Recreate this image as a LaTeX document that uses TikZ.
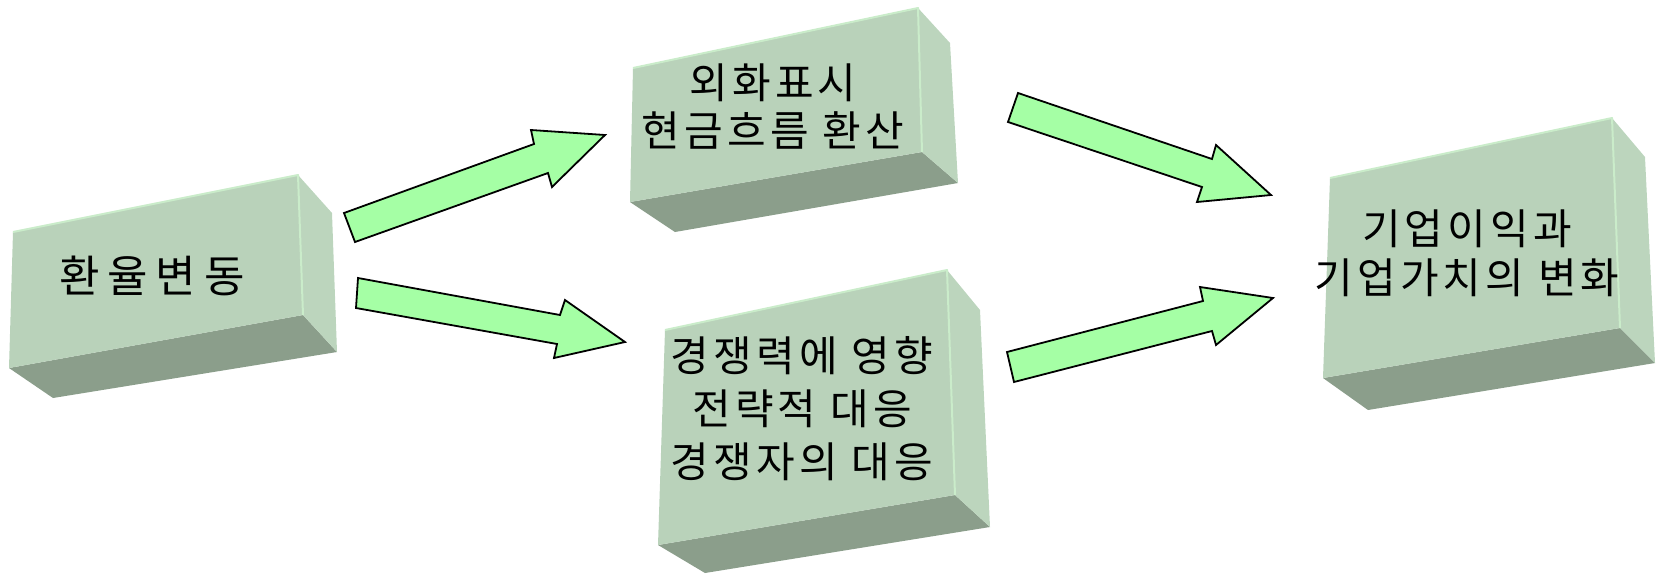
\documentclass[tikz,border=0pt]{standalone}
\usepackage{fontspec}
\newfontfamily\kr{Noto Sans CJK KR}
\newfontfamily\krwide{Noto Sans CJK KR}[LetterSpace=10]
\newfontfamily\krwider{Noto Sans CJK KR}[LetterSpace=18]
\definecolor{frontc}{RGB}{185,210,186}
\definecolor{sidec}{RGB}{188,213,189}
\definecolor{bottomc}{RGB}{139,158,139}
\definecolor{edgec}{RGB}{202,236,202}
\definecolor{arrowc}{RGB}{165,255,165}
\tikzset{
  frontface/.style={fill=frontc},
  sideface/.style={fill=sidec},
  bottomface/.style={fill=bottomc},
  hiedge/.style={draw=edgec, line width=2pt, line join=round},
  blockarrow/.style={fill=arrowc, draw=black, line width=1.8pt, line join=miter},
  boxtext/.style={font=\krwide\fontsize{42}{50}\selectfont, align=center, inner sep=0pt, text=black}
}
\begin{document}
\begin{tikzpicture}[x=1pt,y=-1pt]
\useasboundingbox (0,0) rectangle (1660,574);
% box 1
\fill[bottomface] (9,368) -- (303,315) -- (337,352) -- (53,398) -- cycle;
\fill[sideface] (298,175) -- (332,213) -- (337,352) -- (303,315) -- cycle;
\fill[frontface] (13,232) -- (298,175) -- (303,315) -- (9,368) -- cycle;
\draw[hiedge] (13,232) -- (298,175) -- (303,315);
\node[boxtext, font=\krwider\fontsize{44}{50}\selectfont] (t1) at (152,276) {환율변동};
% box 2
\fill[bottomface] (630,202) -- (922,152) -- (958,183) -- (675,232) -- cycle;
\fill[sideface] (918,8) -- (950,43) -- (958,183) -- (922,152) -- cycle;
\fill[frontface] (633,68) -- (918,8) -- (922,152) -- (630,202) -- cycle;
\draw[hiedge] (633,68) -- (918,8) -- (922,152);
\node[boxtext, font=\krwide\fontsize{42}{48}\selectfont] (t2) at (773,107) {외화표시\\현금흐름 환산};
% box 3
\fill[bottomface] (658,545) -- (955,495) -- (990,527) -- (705,573) -- cycle;
\fill[sideface] (947,270) -- (980,310) -- (990,527) -- (955,495) -- cycle;
\fill[frontface] (665,330) -- (947,270) -- (955,495) -- (658,545) -- cycle;
\draw[hiedge] (665,330) -- (947,270) -- (955,495);
\node[boxtext, font=\krwide\fontsize{42}{53}\selectfont] (t3) at (802,409) {경쟁력에 영향\\전략적 대응\\경쟁자의 대응};
% box 4
\fill[bottomface] (1323,378) -- (1620,328) -- (1655,363) -- (1368,410) -- cycle;
\fill[sideface] (1612,118) -- (1645,157) -- (1655,363) -- (1620,328) -- cycle;
\fill[frontface] (1330,178) -- (1612,118) -- (1620,328) -- (1323,378) -- cycle;
\draw[hiedge] (1330,178) -- (1612,118) -- (1620,328);
\node[boxtext, font=\krwide\fontsize{42}{49}\selectfont] (t4) at (1467,253) {기업이익과\\기업가치의 변화};
% block arrows
\draw[blockarrow] (344,213) -- (534,144) -- (531,130) -- (605,135) -- (552,187) -- (548,173) -- (355,242) -- cycle;
\draw[blockarrow] (358,278) -- (560,315) -- (565,300) -- (625,342) -- (554,358) -- (557,344) -- (356,308) -- cycle;
\draw[blockarrow] (1018,93) -- (1212,159) -- (1216,145) -- (1271,195) -- (1197,202) -- (1202,187) -- (1008,122) -- cycle;
\draw[blockarrow] (1007,352) -- (1203,301) -- (1200,287) -- (1273,298) -- (1216,345) -- (1212,331) -- (1014,382) -- cycle;
\end{tikzpicture}
\end{document}
